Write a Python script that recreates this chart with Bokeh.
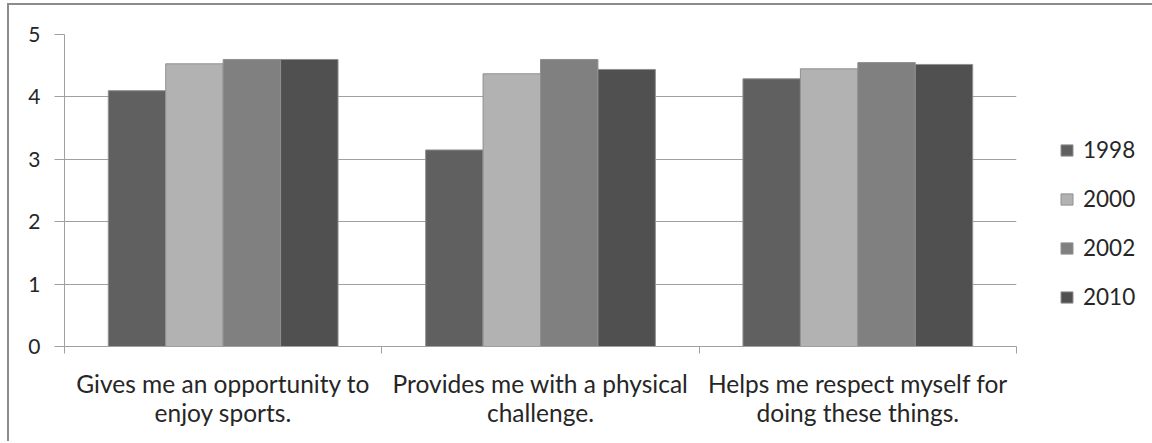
import numpy as np
from bokeh.plotting import figure
from bokeh.models import (ColumnDataSource, FixedTicker, Legend, LegendItem, Range1d)
from bokeh.embed import file_html
from bokeh.resources import INLINE

categories = ["Gives me an opportunity to\nenjoy sports.",
              "Provides me with a physical\nchallenge.",
              "Helps me respect myself for\ndoing these things."]
years = ["1998", "2000", "2002", "2010"]
v1998 = [4.10, 3.15, 4.29]
v2000 = [4.53, 4.37, 4.45]
v2002 = [4.60, 4.60, 4.55]
v2010 = [4.60, 4.44, 4.52]
series = [v1998, v2000, v2002, v2010]
colors = ["#606060", "#b2b2b2", "#808080", "#505050"]
y_ticks = [0, 1, 2, 3, 4, 5]

FONT = "Lato"

p = figure(output_backend="svg", toolbar_location=None,
           x_range=Range1d(0, len(categories)), y_range=Range1d(0, 5))
p.frame_width = 952
p.frame_height = 312
p.styles = {"border-left": "2px solid #8c8c8c", "border-top": "2px solid #8c8c8c",
            "margin-left": "7px", "margin-top": "3px"}
p.min_border_left = 55
p.min_border_right = 136
p.min_border_top = 29
p.min_border_bottom = 95
p.outline_line_color = None
p.background_fill_color = "white"
p.border_fill_color = "white"

bar_w = 0.181
centers = np.arange(len(categories)) + 0.5
renderers = []
for j, (vals, col) in enumerate(zip(series, colors)):
    src = ColumnDataSource(dict(x=centers + (j - 1.5) * bar_w, top=vals))
    r = p.vbar(x="x", top="top", width=bar_w, bottom=0, source=src,
               fill_color=col, line_color="#909090", line_width=1)
    renderers.append(r)

# x axis
xa = p.xaxis[0]
xa.ticker = FixedTicker(ticks=list(centers), minor_ticks=list(range(len(categories) + 1)))
xa.major_label_overrides = {float(c): lab for c, lab in zip(centers, categories)}
xa.major_tick_out = 0
xa.major_tick_in = 0
xa.minor_tick_out = 7
xa.minor_tick_in = 0
xa.minor_tick_line_color = "#a0a0a0"
xa.axis_line_color = "#a0a0a0"
xa.major_label_text_font = FONT
xa.major_label_text_font_size = "24.5px"
xa.major_label_text_color = "#262626"
xa.major_label_text_line_height = 1.0
xa.major_label_standoff = 15

# y axis
ya = p.yaxis[0]
ya.ticker = FixedTicker(ticks=y_ticks)
ya.major_tick_out = 10
ya.major_tick_in = 0
ya.minor_tick_line_color = None
ya.major_tick_line_color = "#a0a0a0"
ya.axis_line_color = "#a0a0a0"
ya.major_label_text_font = FONT
ya.major_label_text_font_size = "21px"
ya.major_label_text_color = "#262626"
ya.major_label_standoff = 14

p.xgrid.grid_line_color = None
p.ygrid.ticker = FixedTicker(ticks=y_ticks)
p.ygrid.grid_line_color = "#a0a0a0"
p.ygrid.grid_line_width = 1

legend = Legend(items=[LegendItem(label=y, renderers=[r]) for y, r in zip(years, renderers)],
                location=(43, 36), orientation="vertical")
legend.padding = 0
legend.margin = 0
legend.border_line_alpha = 0
legend.background_fill_alpha = 0
legend.glyph_width = 15
legend.glyph_height = 14
legend.label_height = 20
legend.spacing = 22
legend.label_standoff = 9
legend.label_text_font = FONT
legend.label_text_font_size = "22.5px"
legend.label_text_color = "#262626"
p.add_layout(legend, "right")

open("out.html", "w").write(file_html(p, INLINE))
